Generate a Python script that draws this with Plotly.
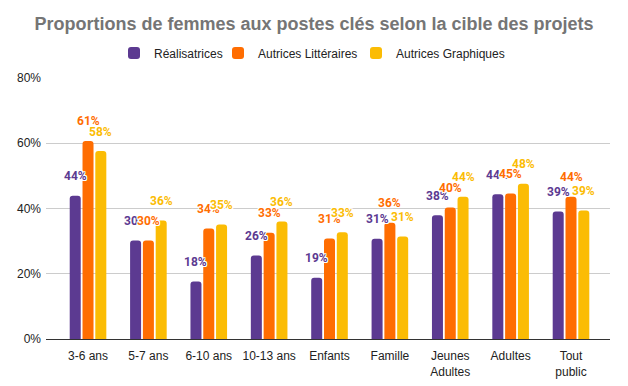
import plotly.graph_objects as go

categories = ["3-6 ans", "5-7 ans", "6-10 ans", "10-13 ans", "Enfants", "Famille",
              "Jeunes<br>Adultes", "Adultes", "Tout<br>public"]
realisatrices = [0.439, 0.302, 0.176, 0.256, 0.188, 0.307, 0.379, 0.444, 0.391]
autrices_litt = [0.607, 0.302, 0.339, 0.326, 0.308, 0.356, 0.403, 0.446, 0.436]
autrices_graph = [0.576, 0.363, 0.351, 0.360, 0.327, 0.314, 0.436, 0.476, 0.394]
series_names = ["Réalisatrices", "Autrices Littéraires", "Autrices Graphiques"]
series_values = [realisatrices, autrices_litt, autrices_graph]
colors = ["#5c3a91", "#ff6d01", "#fbbc04"]
y_ticks = [0, 0.2, 0.4, 0.6, 0.8]

legend_ids = ["legend", "legend2", "legend3"]
legend_left_px = [114, 218, 356]

fig = go.Figure()
for name, vals, col, lg in zip(series_names, series_values, colors, legend_ids):
    fig.add_trace(go.Bar(
        x=categories, y=vals, name=name, legend=lg, showlegend=True,
        marker=dict(color=col, cornerradius=3, line=dict(width=0)),
        hoverinfo="skip",
    ))

halo = ("1px 1px 0 #fff, -1px -1px 0 #fff, 1px -1px 0 #fff, -1px 1px 0 #fff, "
        "0 1px 0 #fff, 0 -1px 0 #fff, 1px 0 0 #fff, -1px 0 0 #fff")
shifts = [-12.8, 0, 12.8]
annotations = []
for cat_i, cat in enumerate(categories):
    for s_i, (vals, col) in enumerate(zip(series_values, colors)):
        annotations.append(dict(
            x=cat, y=vals[cat_i], xref="x", yref="y",
            text=f"{round(vals[cat_i]*100):d}%",
            showarrow=False, xshift=shifts[s_i], yshift=19.5,
            yanchor="middle", xanchor="center",
            font=dict(family="Roboto", size=12, color=col, weight="bold", shadow=halo),
        ))

W, H = 628, 386
legend_common = dict(
    orientation="h", xanchor="left", xref="container",
    y=1 - 53 / H, yref="container", yanchor="middle",
    font=dict(family="Arial", size=12, color="#222222"),
    itemwidth=30, itemclick=False, bgcolor="rgba(0,0,0,0)",
)
legends = {}
for lg, lx in zip(legend_ids, legend_left_px):
    legends[lg] = dict(legend_common, x=lx / W)

fig.update_layout(
    width=W, height=H, showlegend=True,
    margin=dict(l=46, r=18, t=78, b=47, autoexpand=False),
    paper_bgcolor="white", plot_bgcolor="white",
    barmode="group", bargap=0.364, bargroupgap=0.14,
    title=dict(
        text="<b>Proportions de femmes aux postes clés selon la cible des projets</b>",
        x=0.5, xref="container", xanchor="center",
        y=1 - 24 / H, yref="container", yanchor="middle",
        font=dict(family="Arial", size=18, color="#757575"),
    ),
    font=dict(family="Arial", size=12, color="#222222"),
    annotations=annotations,
    **legends,
)
fig.update_xaxes(
    type="category", range=[-0.696, 8.646],
    showline=True, linecolor="#333333", linewidth=1,
    showgrid=False, ticks="", ticklabelstandoff=6,
    tickfont=dict(family="Arial", size=12, color="#222222"),
)
fig.update_yaxes(
    range=[0, 0.8], tickvals=y_ticks, tickformat=".0%",
    showgrid=True, gridcolor="#cccccc", gridwidth=1,
    zeroline=True, zerolinecolor="#333333", zerolinewidth=1,
    ticks="", ticklabelstandoff=4,
    tickfont=dict(family="Arial", size=12, color="#222222"),
)

fig.write_html("out.html", config={"displayModeBar": False},
               post_script="document.body.style.margin='0';")
